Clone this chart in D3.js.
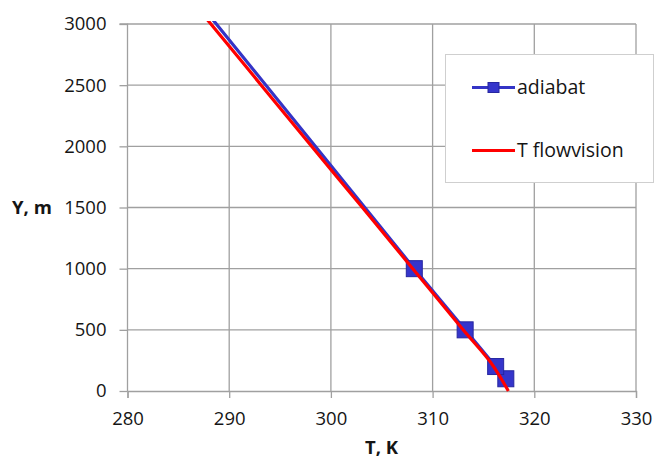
<!DOCTYPE html>
<html>
<head>
<meta charset="utf-8">
<script src="https://cdn.jsdelivr.net/npm/d3@7"></script>
<style>
  html, body { margin: 0; padding: 0; background: #fff; }
  svg { display: block; font-family: "Open Sans", sans-serif; }
</style>
</head>
<body>
<svg id="chart" width="656" height="462"></svg>
<script>
// ---- data ----
const xTicks = [280, 290, 300, 310, 320, 330];
const yTicks = [0, 500, 1000, 1500, 2000, 2500, 3000];
// adiabat series (markers at measured points, line continues upward)
const adiabatT = [317.2, 316.2, 313.2, 308.2, 279.0];
const adiabatY = [100, 200, 500, 1000, 4000];
// T flowvision series
const flowT = [317.45, 316.75, 316.0, 313.0, 308.05, 303.1, 298.1, 293.15, 288.2, 286.2];
const flowY = [0, 100, 200, 500, 1000, 1500, 2000, 2500, 3000, 3200];
const seriesNames = ["adiabat", "T flowvision"];
const xTitle = "T, K";
const yTitle = "Y, m";

// ---- layout ----
const W = 656, H = 462;
const m = { left: 127.5, right: 20, top: 24, bottom: 71 };
const svg = d3.select("#chart");
const x = d3.scaleLinear().domain([280, 330]).range([m.left, W - m.right]);
const y = d3.scaleLinear().domain([0, 3000]).range([H - m.bottom, m.top]);
const gridColor = "#a0a0a0";
const blue = "#3434C6";
const red = "#FF0000";
const txt = "#151515";

// gridlines
svg.append("g").selectAll("line").data(xTicks.slice(1)).join("line")
  .attr("x1", d => x(d)).attr("x2", d => x(d))
  .attr("y1", y(0)).attr("y2", y(3000))
  .attr("stroke", gridColor).attr("stroke-width", 1.3);
svg.append("g").selectAll("line").data(yTicks.slice(1)).join("line")
  .attr("x1", x(280)).attr("x2", x(330))
  .attr("y1", d => y(d)).attr("y2", d => y(d))
  .attr("stroke", gridColor).attr("stroke-width", 1.3);

// axes
const xAxis = d3.axisBottom(x).tickValues(xTicks).tickSize(7).tickPadding(14).tickFormat(d3.format("d"));
const yAxis = d3.axisLeft(y).tickValues(yTicks).tickSize(8).tickPadding(13).tickFormat(d3.format("d"));
const gx = svg.append("g").attr("transform", `translate(0,${y(0)})`).call(xAxis);
const gy = svg.append("g").attr("transform", `translate(${x(280)},0)`).call(yAxis);
[gx, gy].forEach(g => {
  g.select(".domain").attr("stroke", gridColor).attr("stroke-width", 1.3);
  g.selectAll(".tick line").attr("stroke", gridColor).attr("stroke-width", 1.3);
  g.selectAll(".tick text").attr("fill", txt).attr("font-size", 18.5)
    .attr("font-family", "'Open Sans', sans-serif");
});
gy.select(".domain").attr("d", `M-8,${y(3000)}H0V${y(0)}`);

// clip
svg.append("clipPath").attr("id", "clip").append("rect")
  .attr("x", m.left - 10).attr("y", m.top - 3)
  .attr("width", W - m.left - m.right + 12).attr("height", H - m.top - m.bottom + 10);

const plot = svg.append("g").attr("clip-path", "url(#clip)");
const line = d3.line().x(d => x(d[0])).y(d => y(d[1]));
const adiabat = adiabatT.map((t, i) => [t, adiabatY[i]]);
const flow = flowT.map((t, i) => [t, flowY[i]]);

plot.append("path").datum(adiabat).attr("d", line)
  .attr("fill", "none").attr("stroke", blue).attr("stroke-width", 3.2);
plot.selectAll("rect").data(adiabat.filter(d => d[1] <= 3000)).join("rect")
  .attr("x", d => x(d[0]) - 8).attr("y", d => y(d[1]) - 8)
  .attr("width", 16).attr("height", 16)
  .attr("fill", "#3535CB").attr("stroke", "#2626A0").attr("stroke-width", 1);
plot.append("path").datum(flow).attr("d", d3.line().curve(d3.curveMonotoneY).x(d => x(d[0])).y(d => y(d[1])))
  .attr("fill", "none").attr("stroke", red).attr("stroke-width", 3.2);

// legend
const lg = svg.append("g");
lg.append("rect").attr("x", 445.5).attr("y", 54.5).attr("width", 208).attr("height", 128)
  .attr("fill", "#fff").attr("stroke", "#cfcfcf").attr("stroke-width", 1);
lg.append("line").attr("x1", 472).attr("x2", 515).attr("y1", 87.5).attr("y2", 87.5)
  .attr("stroke", blue).attr("stroke-width", 3.2);
lg.append("rect").attr("x", 488).attr("y", 82.5).attr("width", 11).attr("height", 10)
  .attr("fill", "#3535CB").attr("stroke", "#2626A0").attr("stroke-width", 1);
lg.append("line").attr("x1", 472).attr("x2", 515).attr("y1", 150.5).attr("y2", 150.5)
  .attr("stroke", red).attr("stroke-width", 3.2);
lg.selectAll("text").data(seriesNames).join("text")
  .attr("x", 517).attr("y", (d, i) => [94, 157][i])
  .attr("font-size", 19.5).attr("fill", txt).text(d => d);

// axis titles
svg.append("text").attr("x", 381.5).attr("y", 454).attr("text-anchor", "middle")
  .attr("font-weight", "bold").attr("font-size", 18.5).attr("fill", txt).text(xTitle);
svg.append("text").attr("x", 12).attr("y", 213.5)
  .attr("font-weight", "bold").attr("font-size", 18.5).attr("fill", txt).text(yTitle);
</script>
</body>
</html>
